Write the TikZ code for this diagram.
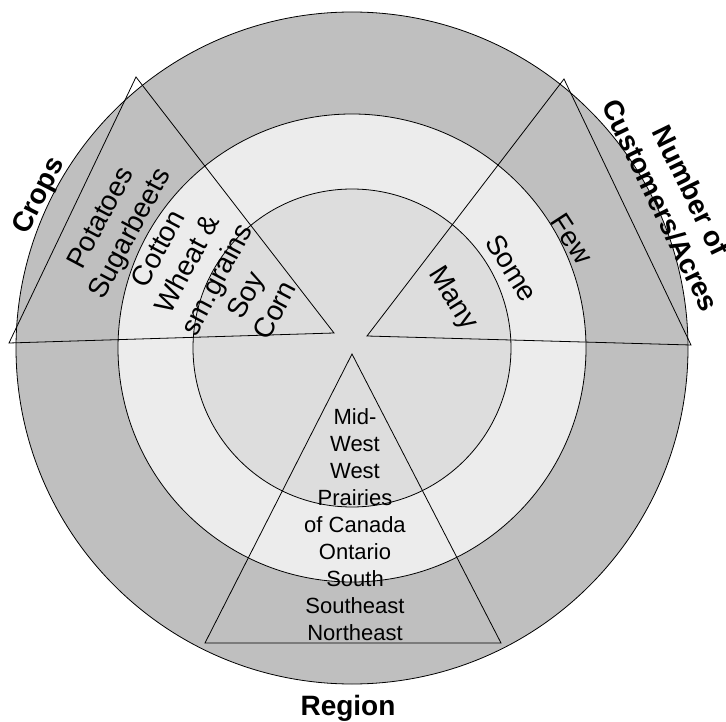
\documentclass[tikz,border=0pt]{standalone}
\usepackage{fontspec}
\setmainfont{Liberation Sans}
\tikzset{
	ring/.style={draw=black, line width=0.8pt},
	tri/.style={draw=black, line width=0.8pt, line join=miter},
	item/.style={inner sep=0pt, align=center, font=\fontsize{28}{33}\selectfont},
	place/.style={inner sep=0pt, align=center, font=\fontsize{22}{27}\selectfont},
	heading/.style={inner sep=0pt, align=center, font=\bfseries\fontsize{28}{34}\selectfont}
}
\begin{document}
\begin{tikzpicture}[x=1pt, y=-1pt]
	\useasboundingbox (0,0) rectangle (726,722);
	\coordinate (C) at (352,348);
	
	\draw[ring, fill=gray!50] (C) circle[radius=336pt];
	\draw[ring, fill=gray!15] (C) circle[radius=234pt];
	\draw[ring, fill=gray!27] (C) circle[radius=159pt];
	
	% crops
	\coordinate (c1) at (136,77);
	\coordinate (c2) at (9,343);
	\coordinate (c3) at (334,333);
	\draw[tri] (c1) -- (c2) -- (c3) -- cycle;
	
	% customers
	\coordinate (n1) at (564,79);
	\coordinate (n2) at (691,345);
	\coordinate (n3) at (367,336);
	\draw[tri] (n1) -- (n2) -- (n3) -- cycle;
	
	% region
	\coordinate (r1) at (352,354);
	\coordinate (r2) at (205,643);
	\coordinate (r3) at (501,643);
	\draw[tri] (r1) -- (r2) -- (r3) -- cycle;
	
	\node[heading, rotate=63] (crops) at (40,196){Crops};
	\node[item, rotate=62] (croplist) at (187,264){Potatoes\\Sugarbeets\\Cotton\\Wheat \&\\sm.grains\\Soy\\Corn};
	
	\node[heading, rotate=-64] (customers) at (676,198){Number of\\Customers/Acres};
	\node[item, rotate=-57] (few) at (572,239){Few};
	\node[item, rotate=-58] (some) at (512,268){Some};
	\node[item, rotate=-58] (many) at (452,299){Many};
	
	\node[place] (regionlist) at (355,525){Mid-\\West\\West\\Prairies\\of Canada\\Ontario\\South\\Southeast\\Northeast};
	\node[heading] (region) at (348,708){Region};
\end{tikzpicture}
\end{document}
